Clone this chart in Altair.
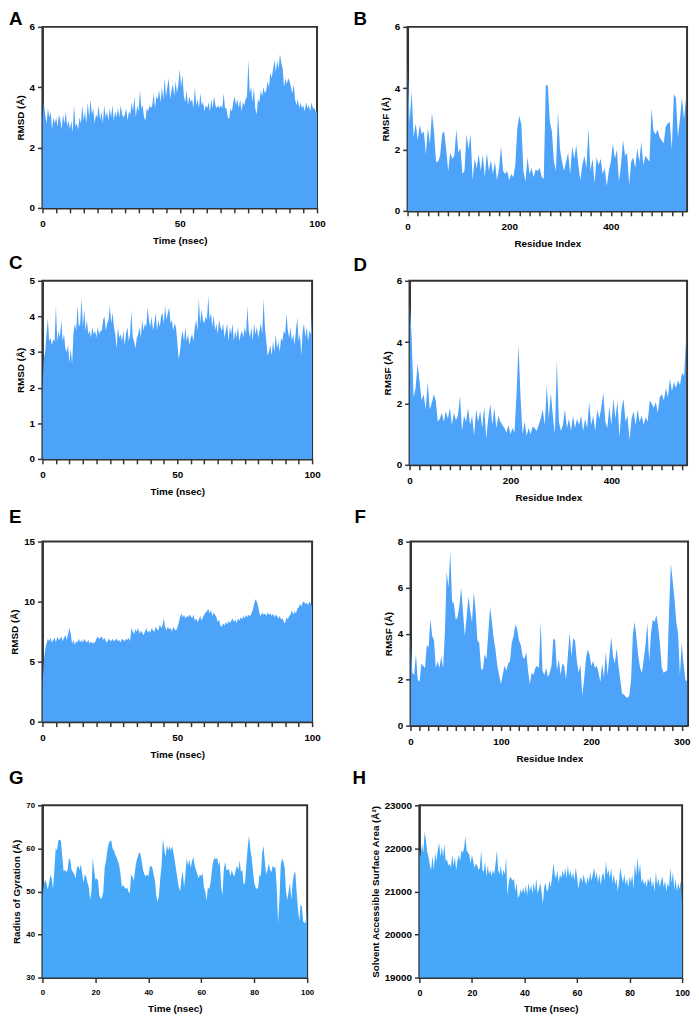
import altair as alt
import pandas as pd

FONT = "Liberation Sans"
BLUE = "#4DA2FA"
BLUE2 = "#45A8F8"

# time grid (ns), step 0.5
TIME = [i * 0.5 for i in range(201)]

A_RMSD = [
    3.0, 3.5, 3.1, 2.8, 3.3, 3.0, 3.2, 2.6, 3.0, 2.8,
    3.0, 2.7, 3.1, 2.9, 2.6, 3.1, 2.8, 3.2, 2.7, 2.9,
    2.6, 2.9, 2.5, 3.4, 2.7, 2.8, 2.6, 3.0, 2.8, 3.4,
    2.9, 3.2, 2.8, 3.5, 3.0, 3.6, 3.1, 3.3, 2.8, 3.1,
    3.0, 3.4, 2.9, 3.2, 2.8, 3.4, 3.0, 3.2, 2.9, 3.3,
    3.0, 3.4, 2.9, 3.2, 3.0, 3.3, 3.0, 3.4, 3.1, 3.0,
    3.1, 3.3, 2.9, 3.2, 3.1, 3.5, 3.2, 3.7, 3.0, 3.4,
    3.2, 3.9, 3.3, 3.4, 3.0, 2.9, 3.3, 3.2, 3.4, 3.3,
    3.4, 3.8, 3.3, 3.7, 3.6, 3.9, 3.5, 4.0, 3.6, 4.3,
    3.7, 4.0, 4.3, 3.6, 3.9, 4.1, 3.7, 4.2, 3.8, 4.1,
    4.6, 4.0, 4.4, 3.7, 3.5, 3.9, 3.4, 3.7, 3.5, 3.6,
    3.3, 4.0, 3.4, 3.6, 3.3, 3.8, 3.4, 3.5, 3.2, 3.4,
    3.3, 3.5, 3.2, 3.6, 3.3, 3.7, 3.4, 3.3, 3.4, 3.3,
    3.4, 3.3, 3.8, 3.3, 3.3, 3.0, 2.95, 3.3, 3.2, 3.5,
    3.7, 3.4, 3.6, 3.3, 3.6, 3.2, 3.5, 3.4, 3.6, 3.7,
    4.9, 3.8, 4.0, 3.5, 4.0, 3.3, 3.1, 3.6, 3.5, 3.9,
    3.7, 4.0, 3.8, 3.9, 4.2, 4.0, 4.5, 4.3, 4.6, 4.9,
    4.5, 4.9, 4.6, 5.1, 4.8, 4.6, 4.0, 4.3, 4.1, 4.3,
    4.2, 4.0, 3.8, 4.1, 3.6, 3.4, 3.6, 3.3, 3.5, 3.3,
    3.4, 3.2, 3.5, 3.3, 3.4, 3.2, 3.5, 3.3, 3.3, 3.2,
    3.2,
]

C_RMSD = [
    2.0, 2.8, 3.0, 3.5, 3.95, 3.3, 3.4, 3.2, 3.35, 3.3,
    4.3, 3.3, 3.6, 3.4, 3.9, 3.3, 3.5, 3.1, 3.0, 3.2,
    2.7, 3.1, 2.65, 3.5, 3.8, 3.6, 4.3, 3.7, 3.8, 4.5,
    3.7, 4.2, 3.6, 3.9, 3.5, 3.6, 3.4, 3.7, 3.5, 3.6,
    3.4, 3.7, 3.5, 3.6, 3.6, 3.9, 4.0, 3.6, 3.8, 3.9,
    4.3, 3.8, 4.1, 3.7, 3.5, 3.1, 3.7, 3.4, 3.5, 3.3,
    3.6, 3.2, 3.5, 3.7, 3.3, 3.5, 4.15, 3.4, 3.3, 3.1,
    3.4, 3.5, 3.7, 3.4, 3.9, 3.6, 3.8, 3.7, 4.25, 3.9,
    3.7, 4.0, 3.6, 3.8, 4.1, 3.6, 3.9, 3.7, 4.0, 4.1,
    3.8, 4.3, 3.9, 4.1, 4.25, 3.8, 3.9, 3.6, 3.8, 3.7,
    3.3, 2.8, 3.0, 3.4, 3.6, 3.3, 3.7, 3.3, 3.5, 3.2,
    3.4, 3.5, 3.3, 3.7, 3.9, 3.6, 4.5, 3.8, 4.2, 3.9,
    3.8, 4.0, 3.9, 4.58, 3.9, 4.1, 3.7, 4.05, 3.6, 3.8,
    3.5, 3.9, 3.7, 3.6, 3.8, 3.4, 3.6, 3.8, 3.3, 3.7,
    3.5, 3.8, 3.3, 3.6, 3.4, 3.7, 3.3, 3.5, 3.6, 3.4,
    3.7, 3.5, 4.28, 3.6, 3.4, 3.7, 3.3, 3.8, 3.5, 3.7,
    3.4, 3.6, 3.8, 3.5, 4.49, 3.7, 3.3, 2.9, 3.0, 3.2,
    2.9, 3.3, 3.0, 3.5, 3.1, 3.3, 3.0, 3.4, 3.3, 3.6,
    3.5, 4.08, 3.6, 3.4, 3.7, 3.3, 3.5, 3.2, 3.6, 3.96,
    3.3, 3.5, 2.9, 3.6, 3.8, 3.4, 3.7, 3.3, 3.6, 3.5,
    4.05,
]

E_RMSD = [
    3.0, 5.0, 6.0, 6.5, 6.9, 6.7, 7.0, 6.6, 6.8, 7.0,
    6.6, 7.1, 6.8, 6.9, 7.1, 6.7, 7.0, 7.2, 6.8, 7.3,
    7.8, 7.3, 6.5, 6.8, 6.4, 6.7, 6.6, 6.9, 6.6, 6.8,
    6.6, 6.9, 6.7, 6.6, 6.8, 6.5, 6.7, 6.5, 6.6, 6.6,
    6.9, 7.1, 6.9, 7.0, 7.1, 6.8, 7.0, 6.7, 6.6, 6.9,
    6.8, 6.7, 6.9, 6.7, 6.8, 6.9, 6.7, 6.8, 6.6, 6.9,
    6.8, 6.7, 6.9, 6.8, 7.0, 6.7, 7.8, 7.5, 7.3, 7.7,
    7.5, 7.8, 7.3, 7.6, 7.4, 7.2, 7.5, 7.8, 7.4, 7.6,
    7.4, 7.8, 7.6, 7.5, 7.9, 7.7, 7.6, 8.1, 7.8, 8.0,
    8.6, 7.9, 7.6, 7.9, 7.7, 7.8, 7.5, 7.9, 7.7, 7.6,
    7.8, 8.2, 8.7, 9.0, 8.7, 8.9, 8.6, 8.8, 8.7, 8.9,
    8.8, 8.6, 8.9, 8.4, 8.6, 8.3, 8.5, 8.8, 8.4, 8.7,
    8.9, 9.1, 9.2, 9.4, 9.0, 9.3, 8.8, 9.1, 8.9, 8.7,
    8.3, 8.5, 8.0, 7.9, 8.2, 8.0, 8.3, 8.1, 8.4, 8.2,
    8.4, 8.6, 8.3, 8.5, 8.2, 8.6, 8.4, 8.7, 8.5, 8.8,
    8.6, 8.9, 8.7, 8.9, 8.8, 9.0, 9.3, 9.8, 10.2, 10.0,
    9.6, 9.0, 8.8, 9.1, 8.9, 9.0, 8.8, 9.1, 8.9, 9.0,
    8.8, 9.0, 8.7, 8.9, 8.8, 8.6, 8.8, 8.5, 8.6, 8.3,
    8.2, 8.7, 8.5, 8.8, 8.9, 9.3, 8.9, 9.2, 9.0, 9.4,
    9.5, 9.8, 9.6, 9.9, 10.0, 9.8, 9.9, 9.7, 10.0, 9.8,
    9.6,
]

G_RG = [
    49.4, 51.3, 52.8, 52.0, 50.5, 52.0, 53.9, 53.0, 50.6, 55.0,
    60.1, 59.5, 61.8, 62.0, 61.8, 58.0, 54.7, 55.0, 54.5, 55.0,
    57.7, 57.3, 55.0, 54.5, 54.0, 53.0, 55.5, 56.0, 55.0, 56.3,
    54.3, 52.0, 54.0, 53.5, 52.0, 51.0, 48.1, 50.0, 57.8, 55.0,
    52.8, 53.0, 52.5, 49.0, 48.3, 48.5, 50.0, 55.5, 57.0, 59.5,
    61.0, 61.8, 61.8, 60.0, 59.5, 58.5, 58.0, 57.0, 56.0, 54.0,
    51.0, 51.5, 51.0, 50.5, 51.0, 50.0, 49.6, 53.9, 53.5, 52.5,
    55.0, 57.0, 58.0, 59.0, 58.8, 57.0, 55.0, 54.0, 53.5, 54.0,
    53.5, 55.5, 56.0, 55.5, 54.0, 52.5, 49.0, 47.6, 49.0, 53.0,
    56.0, 62.3, 60.0, 58.0, 60.7, 59.5, 60.5, 59.5, 60.5, 59.0,
    57.0, 55.0, 53.0, 51.0, 50.0, 53.0, 54.7, 51.0, 54.0, 57.7,
    56.0, 57.5, 55.5, 57.0, 58.0, 56.0, 55.0, 54.0, 53.0, 54.0,
    53.5, 54.3, 51.0, 50.0, 47.9, 51.0, 50.5, 52.0, 55.0, 57.0,
    57.8, 57.5, 57.8, 56.0, 57.0, 51.0, 49.1, 55.0, 56.9, 55.0,
    55.0, 55.2, 53.5, 55.0, 54.0, 53.5, 55.0, 56.0, 55.0, 57.2,
    54.5, 55.0, 51.5, 52.0, 56.0, 60.0, 63.0, 60.0, 58.0, 55.0,
    52.0, 51.0, 50.5, 51.0, 54.0, 53.5, 59.0, 60.6, 57.0, 54.0,
    55.0, 56.5, 55.0, 54.5, 56.0, 55.5, 55.7, 51.0, 42.7, 48.0,
    56.0, 57.7, 57.0, 55.5, 50.0, 48.0, 50.0, 52.0, 48.0, 52.0,
    54.0, 54.7, 50.0, 46.0, 43.2, 47.0, 46.5, 43.0, 42.6, 43.0,
    46.8,
]

H_SASA = [
    21950, 21800, 22100, 21900, 22380, 22200, 21900, 21800, 21600, 21500,
    21830, 21500, 21900, 21700, 21950, 22130, 21800, 22050, 21800, 22100,
    21700, 21750, 21600, 21650, 21550, 21850, 21600, 21800, 21500, 21700,
    21850, 21700, 21950, 21900, 22000, 22280, 21950, 21900, 21850, 21650,
    21850, 21700, 21550, 21650, 21600, 21500, 21550, 21950, 21500, 21450,
    21700, 21350, 21600, 21400, 21500, 21350, 21500, 21400, 21650, 21950,
    21500, 21400, 21600, 21350, 21500, 21400, 21800, 20900, 21200, 21350,
    21300, 21250, 21300, 21000, 21200, 20850, 20900, 21050, 20950, 21100,
    20950, 21150, 20900, 21200, 21000, 21150, 20950, 21200, 21000, 21300,
    20950, 21050, 21200, 21000, 20700, 21100, 21200, 21000, 21050, 21250,
    21100, 21350, 21650, 21400, 21300, 21500, 21200, 21400, 21300, 21500,
    21350, 21550, 21300, 21600, 21350, 21500, 21300, 21450, 21250, 21550,
    21350, 21050, 21250, 21350, 21200, 21400, 21250, 21150, 21350, 21200,
    21450, 21250, 21400, 21550, 21300, 21450, 21200, 21400, 21150, 21350,
    21450, 21250, 21700, 21400, 21500, 21300, 21550, 21200, 21400, 21150,
    21300, 21000, 21250, 21550, 21350, 21200, 21400, 21150, 21300, 21100,
    21350, 21200, 21400, 21050, 21650, 21350, 21800, 21400, 21650, 21200,
    21300, 21150, 21250, 21100, 21300, 21200, 21350, 21100, 21250, 21000,
    21450, 21150, 21300, 21100, 21250, 21350, 21100, 21250, 21000, 21200,
    21100, 21550, 21200, 21450, 21050, 21300, 21000, 21200, 21050, 21250,
    20700,
]

# residue index step 4 (B, D) and step 2 (F)
B_RMSF = [
    4.8, 2.9, 3.9, 2.4, 2.85, 2.3, 2.8, 2.5, 2.6, 1.85,
    2.7, 2.2, 3.2, 2.6, 1.6, 1.6, 1.8, 2.5, 2.6, 2.0,
    1.3, 1.9, 1.7, 1.8, 2.65, 1.9, 2.05, 1.2, 1.3, 2.5,
    2.0, 2.5, 1.0, 1.7, 1.4, 1.85, 1.3, 1.85, 1.1, 1.9,
    1.3, 1.65, 1.2, 1.6, 1.0, 1.4, 2.1, 1.3, 1.2, 1.3,
    1.0, 1.2, 1.1, 1.5, 2.7, 3.1, 2.8, 1.3, 0.95, 1.75,
    1.2, 1.4, 1.1, 1.35, 1.3, 1.4, 1.1, 1.05, 4.1, 4.1,
    2.9, 2.6, 1.6, 1.3, 3.25, 2.0, 1.6, 1.3, 1.6, 1.9,
    1.2, 2.1, 1.7, 2.15, 1.5, 1.0, 1.5, 1.8, 1.4, 2.7,
    1.3, 1.7, 0.9, 1.75, 1.5, 1.7, 1.2, 1.4, 0.8, 1.3,
    1.6, 2.2, 1.7, 2.0, 0.95, 1.5, 2.3, 1.8, 1.9, 0.85,
    1.6, 1.75, 1.4, 2.05, 1.6, 2.25, 1.5, 1.8, 1.7, 1.6,
    3.35, 2.6, 2.5, 2.65, 2.4, 2.3, 2.2, 2.75, 2.85, 2.9,
    2.0, 3.8, 3.7, 2.4, 3.0, 3.7, 3.0, 3.7,
]

D_RMSF = [
    5.35, 4.25, 2.2, 2.5, 3.3, 2.7, 2.1, 2.3, 1.8, 2.7,
    1.8, 2.0, 2.3, 2.1, 1.4, 1.5, 1.7, 1.4, 1.75, 1.5,
    1.85, 1.3, 1.7, 1.45, 1.6, 2.25, 1.1, 1.6, 1.4, 1.85,
    1.3, 1.6, 0.95, 1.8, 1.4, 1.75, 1.2, 1.9, 0.85, 1.5,
    2.0, 1.3, 1.85, 1.2, 1.6, 1.4, 1.3, 1.2, 1.05, 1.3,
    1.0, 1.2, 1.05, 2.3, 3.9, 2.2, 1.0, 1.4, 0.95, 1.2,
    1.0, 1.25, 1.2, 1.1, 1.3, 1.5, 1.8, 1.3, 2.6, 1.5,
    2.35, 1.6, 1.0, 3.4, 1.4, 1.1, 1.3, 1.8, 1.2, 1.5,
    1.1, 1.6, 1.2, 1.5, 1.3, 1.6, 1.1, 1.5, 1.2, 2.05,
    1.3, 1.6, 1.1, 1.8, 1.5, 1.85, 2.35, 1.4, 1.2, 1.9,
    1.3, 2.15, 1.5, 2.1, 0.9, 1.8, 2.15, 1.4, 1.6, 0.8,
    1.5, 1.75, 1.3, 1.8, 1.4, 1.6, 1.3, 1.55, 1.4, 2.1,
    2.0, 1.85, 2.05, 1.7, 2.2, 2.3, 2.1, 2.5, 2.2, 2.8,
    2.4, 2.7, 2.5, 2.75, 2.6, 3.0, 2.9, 4.1,
]

F_RMSF = [
    3.8, 2.3, 2.2, 3.1, 2.0, 1.9, 2.7, 2.6, 2.5, 3.5,
    3.4, 4.65, 3.9, 3.7, 2.5, 2.8, 2.5, 3.0, 2.5, 4.0,
    6.7, 6.0, 7.55, 5.4, 5.3, 4.6, 4.7, 5.2, 6.0, 5.0,
    3.9, 4.7, 5.6, 5.0, 4.5, 5.8, 5.0, 3.7, 3.6, 2.5,
    2.4, 3.1, 2.9, 4.0, 5.15, 4.5, 3.8, 3.3, 2.6, 2.2,
    1.8, 2.2, 2.6, 2.4, 2.7, 2.8, 3.6, 3.9, 4.4, 4.2,
    3.7, 3.5, 3.0, 2.9, 3.2, 2.4, 1.8, 2.3, 2.2, 2.5,
    2.6, 2.5, 4.5, 2.4, 2.2, 2.5, 2.1, 2.3, 2.6, 3.8,
    3.7, 2.4, 2.9, 2.2, 2.7, 2.6, 2.0, 3.0, 4.05, 3.0,
    3.8, 3.7, 2.8, 2.3, 2.65, 1.3, 2.0, 2.9, 3.3, 3.1,
    2.6, 2.8, 2.5, 2.6, 2.3, 1.9, 2.7, 2.1, 3.2, 2.2,
    3.0, 3.85, 3.0, 2.7, 3.35, 2.6, 2.0, 1.4, 1.35, 1.25,
    1.2, 1.3, 2.0, 4.0, 4.5, 3.8, 3.0, 2.5, 2.3, 2.9,
    3.5, 4.45, 2.8, 4.0, 4.6, 4.5, 4.8, 4.3, 3.5, 2.5,
    2.3, 2.35, 2.4, 5.0, 7.05, 6.3, 5.5, 4.5, 4.0, 2.2,
    3.6, 2.7, 2.0, 1.9,
]

RES_B = [i * 4 for i in range(len(B_RMSF))]
RES_D = [i * 4 for i in range(len(D_RMSF))]
RES_F = [i * 2 for i in range(len(F_RMSF))]

# axis ticks
TICKS_TIME5 = list(range(0, 101, 5))
TICKS_TIME20 = [0, 20, 40, 60, 80, 100]
TICKS_RES20 = list(range(0, 541, 20))
TICKS_RES10 = list(range(0, 301, 10))
Y_A = [0, 2, 4, 6]
Y_C = [0, 1, 2, 3, 4, 5]
Y_E = [0, 5, 10, 15]
Y_F = [0, 2, 4, 6, 8]
Y_G = [30, 40, 50, 60, 70]
Y_H = [19000, 20000, 21000, 22000, 23000]


def panel(xs, ys, xdom, ydom, xticks, major, yticks, xtitle, ytitle,
          w, h, color, letter, lx, ly, xlab=10, ylab=10):
    df = pd.DataFrame({"x": xs, "y": ys})
    if major:
        lexpr = f"datum.value % {major} === 0 ? datum.label : ''"
    else:
        lexpr = "datum.label"
    area = alt.Chart(df).mark_area(color=color, clip=True, interpolate="linear", opacity=1).encode(
        x=alt.X("x:Q", scale=alt.Scale(domain=xdom, nice=False, zero=False),
                axis=alt.Axis(values=xticks, labelExpr=lexpr, title=xtitle,
                              labelFontSize=xlab, labelFlush=False, labelOverlap=False)),
        y=alt.Y("y:Q", scale=alt.Scale(domain=ydom, nice=False, zero=False),
                axis=alt.Axis(values=yticks, title=ytitle, labelFontSize=ylab, format="d")),
    )
    txt = alt.Chart(alt.Data(values=[{"t": letter}])).mark_text(
        align="left", baseline="alphabetic", fontSize=19, fontWeight="bold", font=FONT, color="#000"
    ).encode(x=alt.value(lx), y=alt.value(ly), text="t:N")
    return alt.layer(area, txt).properties(width=w, height=h)


pA = panel(TIME, A_RMSD, [0, 100], [0, 6], TICKS_TIME5, 50, Y_A, "Time (nsec)", "RMSD (Å)",
           279, 184, BLUE, "A", -34, -1.4)
pB = panel(RES_B, B_RMSF, [0, 550], [0, 6], TICKS_RES20, 200, Y_A, "Residue Index", "RMSF (Å)",
           284, 187, BLUE, "B", -55, -1.4)
pC = panel(TIME, C_RMSD, [0, 100], [0, 5], TICKS_TIME5, 50, Y_C, "Time (nsec)", "RMSD (Å)",
           274, 181, BLUE, "C", -34, -12)
pD = panel(RES_D, D_RMSF, [0, 550], [0, 6], TICKS_RES20, 200, Y_A, "Residue Index", "RMSF (Å)",
           282, 187, BLUE, "D", -57, -10.4)
pE = panel(TIME, E_RMSD, [0, 100], [0, 15], TICKS_TIME5, 50, Y_E, "Time (nsec)", "RMSD (Å)",
           274, 183, BLUE, "E", -34, -19)
pF = panel(RES_F, F_RMSF, [0, 307], [0, 8], TICKS_RES10, 100, Y_F, "Residue Index", "RMSF (Å)",
           282, 187, BLUE, "F", -57, -18.4)
pG = panel(TIME, G_RG, [0, 100], [30, 70], TICKS_TIME20, None, Y_G, "Time (nsec)", "Radius of Gyration (Å)",
           269, 175, BLUE2, "G", -34, -22, xlab=8, ylab=8)
pH = panel(TIME, H_SASA, [0, 100], [19000, 23000], TICKS_TIME20, None, Y_H, "TIme (nsec)",
           "Solvent Accessible Surface Area (Å²)", 267, 175, BLUE2, "H", -68, -22, xlab=9, ylab=10)

chart = alt.vconcat(
    alt.hconcat(pA, pB, spacing=26),
    alt.hconcat(pC, pD, spacing=31),
    alt.hconcat(pE, pF, spacing=32),
    alt.hconcat(pG, pH, spacing=37),
    spacing=4,
).properties(
    padding={"top": -7, "left": 0, "right": 0, "bottom": 0}, background="white"
).configure_view(
    stroke="#333", strokeWidth=2
).configure_axis(
    domainColor="#333", domainWidth=2, tickColor="#333", tickWidth=1.5, tickSize=5,
    grid=False, labelFont=FONT, labelFontWeight="bold", labelColor="#000",
    titleFont=FONT, titleFontSize=10, titleFontWeight="bold", titleColor="#000",
    labelPadding=3, titlePadding=4,
).configure_axisX(labelPadding=6, titlePadding=7)

chart.save("out.html", embed_options={"renderer": "svg", "actions": False})
